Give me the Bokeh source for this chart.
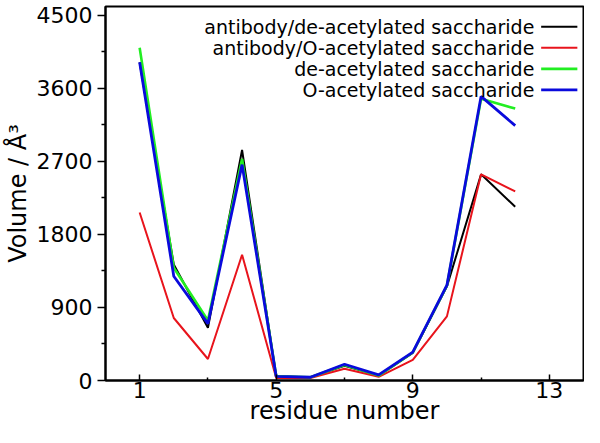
from bokeh.plotting import figure
from bokeh.models import FixedTicker, ColumnDataSource
from bokeh.core.properties import value
from bokeh.embed import file_html
from bokeh.resources import INLINE

residue = [1, 2, 3, 4, 5, 6, 7, 8, 9, 10, 11, 12]
ab_deacetylated = [3920, 1430, 650, 2840, 50, 40, 180, 60, 340, 1160, 2540, 2140]
ab_o_acetylated = [2070, 770, 265, 1550, 30, 30, 145, 45, 255, 790, 2540, 2330]
deacetylated = [4100, 1390, 740, 2730, 55, 40, 190, 60, 345, 1170, 3470, 3350]
o_acetylated = [3920, 1285, 700, 2660, 50, 40, 200, 70, 350, 1175, 3500, 3140]

series_labels = ["antibody/de-acetylated saccharide", "antibody/O-acetylated saccharide",
                 "de-acetylated saccharide", "O-acetylated saccharide"]
series_values = [ab_deacetylated, ab_o_acetylated, deacetylated, o_acetylated]
series_colors = ["#000000", "#e8141c", "#22ee22", "#0a0adc"]
series_widths = [2, 2, 2.6, 2.8]

x_ticks = [1, 5, 9, 13]
x_minor = [3, 7, 11]
y_ticks = [0, 900, 1800, 2700, 3600, 4500]
y_minor = [450, 1350, 2250, 3150, 4050]

FONT = "DejaVu Sans"

p = figure(width=584, height=427, x_range=(0, 14), y_range=(0, 4608),
           output_backend="svg", toolbar_location=None,
           min_border_left=103, min_border_right=1, min_border_top=6, min_border_bottom=10)
p.grid.visible = False
p.outline_line_color = "black"
p.outline_line_width = 2
p.background_fill_color = "white"
p.border_fill_color = "white"

for vals, col, w in zip(series_values, series_colors, series_widths):
    p.line(residue, vals, line_color=col, line_width=w)

# legend (label right, sample line right of label)
leg_y = [4360, 4100, 3840, 3580]
p.text(x=[12.56] * 4, y=leg_y, text=series_labels, text_align="right", text_baseline="middle",
       text_font=value(FONT), text_font_size="19px", text_color="black")
src = ColumnDataSource(dict(x0=[12.76] * 4, x1=[13.82] * 4, y=leg_y, c=series_colors, w=series_widths))
p.segment(x0="x0", y0="y", x1="x1", y1="y", line_color="c", line_width="w", source=src)

xa = p.xaxis[0]
xa.ticker = FixedTicker(ticks=x_ticks, minor_ticks=x_minor)
xa.axis_label = "residue number"
xa.major_tick_in = 6
xa.major_tick_out = 0
xa.minor_tick_in = 3
xa.minor_tick_out = 0
xa.major_label_standoff = 1
xa.axis_label_standoff = -4

ya = p.yaxis[0]
ya.ticker = FixedTicker(ticks=y_ticks, minor_ticks=y_minor)
ya.axis_label = "Volume / Å³"
ya.major_tick_in = 0
ya.major_tick_out = 8
ya.minor_tick_in = 0
ya.minor_tick_out = 4
ya.major_label_standoff = 5
ya.axis_label_standoff = 2

for ax in (xa, ya):
    ax.axis_line_color = "black"
    ax.axis_line_width = 2
    ax.major_tick_line_color = "black"
    ax.major_tick_line_width = 1.5
    ax.minor_tick_line_color = "black"
    ax.minor_tick_line_width = 1.5
    ax.major_label_text_font = FONT
    ax.major_label_text_font_size = "22px"
    ax.major_label_text_color = "black"
    ax.axis_label_text_font = FONT
    ax.axis_label_text_font_size = "24px"
    ax.axis_label_text_font_style = "normal"
    ax.axis_label_text_color = "black"

open("out.html", "w").write(file_html(p, INLINE))
